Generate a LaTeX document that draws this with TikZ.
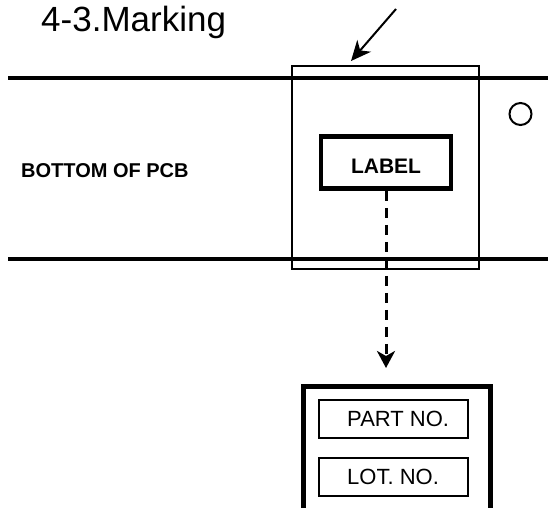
\documentclass[tikz,border=0pt]{standalone}
\usepackage{fontspec}
\setmainfont{Liberation Sans}
\usetikzlibrary{positioning,arrows.meta}
\tikzset{
    every node/.style={inner sep=0pt},
    pcbedge/.style={line width=4pt},
    spotbox/.style={rectangle,draw,line width=2pt,minimum width=187pt,minimum height=203pt},
    labelbox/.style={rectangle,draw,line width=4.5pt,minimum width=130pt,minimum height=52pt,text height=22pt,font=\fontsize{21}{25}\selectfont\bfseries},
    tagframe/.style={rectangle,draw,line width=4.5pt,minimum width=187pt,minimum height=160pt,anchor=north west},
    tagbox/.style={rectangle,draw,line width=2pt,minimum width=149pt,minimum height=38pt},
    tagtext/.style={font=\fontsize{22}{26}\selectfont},
    hole/.style={circle,draw,line width=2pt,minimum size=22pt},
    pointer/.style={-{Stealth[length=20pt,width=18pt,inset=6pt]},line width=2pt},
    drop/.style={-{Stealth[length=17pt,width=18pt,inset=5pt]},line width=3pt,dash pattern=on 10pt off 7pt}
}
\begin{document}
\begin{tikzpicture}[x=1pt,y=-1pt]
    \useasboundingbox (0,0) rectangle (548,507);
    \node[anchor=base west,font=\fontsize{35}{42}\selectfont] (title) at (41,31) {4-3.Marking};
    \draw[pcbedge] (8,78) -- (548,78);
    \draw[pcbedge] (8,259) -- (548,259);
    \node[spotbox] (spot) at (385.5,167.5) {};
    \node[labelbox] (label) at (386,162.5) {LABEL};
    \node[anchor=base west,font=\fontsize{20}{24}\selectfont\bfseries] (side) at (21,177) {BOTTOM OF PCB};
    \node[hole] (pin) at (520.5,114) {};
    \coordinate (from) at (396,9);
    \coordinate (aim) at (351,61);
    \draw[pointer] (from) -- (aim);
    \node[tagframe] (tag) at (301,384) {};
    \node[tagbox] (part) at (393.5,419) {};
    \node[tagbox,below=18pt of part] (lot) {};
    \node[tagtext,right=29pt of part.west] (parttext) {PART NO.};
    \node[tagtext,right=29pt of lot.west] (lottext) {LOT. NO.};
    \draw[drop] (label.south) -- ([yshift=16pt]label.south |- tag.north);
\end{tikzpicture}
\end{document}
